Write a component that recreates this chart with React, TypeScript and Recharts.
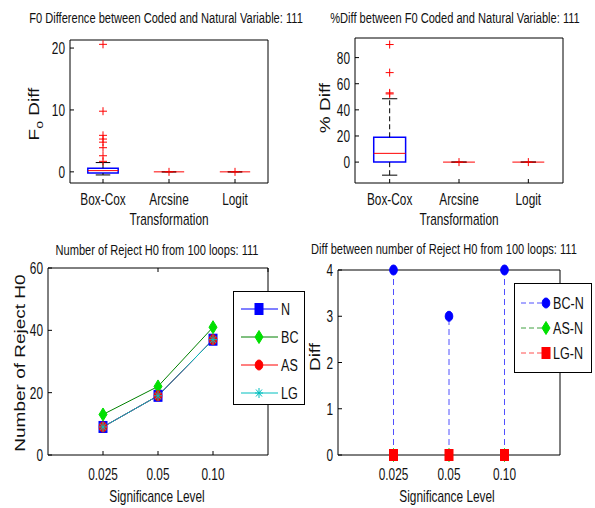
import React from 'react';
import {
  ComposedChart,
  Line,
  Scatter,
  XAxis,
  YAxis,
  ReferenceLine,
  ReferenceArea,
  Legend,
} from 'recharts';

const FONT = '"Liberation Sans", Arial, sans-serif';
const SQ = 0.74; // the original figure is squeezed sideways, so is its text

// top row: box plots for the three transformations
const methods = ['Box-Cox', 'Arcsine Transformation', 'Logit'];
const methodPos = [1, 2, 3];

const f0Low = [-0.5, 0, 0];
const f0Q1 = [-0.2, 0, 0];
const f0Median = [0.2, 0, 0];
const f0Q3 = [0.6, 0, 0];
const f0High = [1.5, 0, 0];
const f0Outliers = [[20.6, 9.8, 5.9, 5.3, 4.8, 3.9, 2.6, 1.7], [0], [0]];
const f0Ticks = [0, 10, 20];

const pctLow = [-10, 0, 0];
const pctQ1 = [0, 0, 0];
const pctMedian = [6.7, 0, 0];
const pctQ3 = [19, 0, 0];
const pctHigh = [48.5, 0, 0];
const pctOutliers = [[90, 68.5, 53, 52.2], [0], [0]];
const pctTicks = [0, 20, 40, 60, 80];

// bottom row: rejections per significance level
const levels = ['0.025', '0.05', '0.10'];
const levelPos = [1, 2, 3];
const rejN = [9, 19, 37];
const rejBC = [13, 22, 41];
const rejAS = [9, 19, 37];
const rejLG = [9, 19, 37];
const rejTicks = [0, 20, 40, 60];

const diffBC = [4, 3, 4];
const diffAS = [0, 0, 0];
const diffLG = [0, 0, 0];
const diffTicks = [0, 1, 2, 3, 4];

const rejRows = levelPos.map((x, i) => ({ x, N: rejN[i], BC: rejBC[i], AS: rejAS[i], LG: rejLG[i] }));

const rejSeries = [
  { key: 'N', line: '#0000ff', fill: '#0000ff', kind: 'square' },
  { key: 'BC', line: '#008000', fill: '#00e000', kind: 'diamond' },
  { key: 'AS', line: '#ff0000', fill: '#ff0000', kind: 'circle' },
  { key: 'LG', line: '#00bfbf', fill: '#00bfbf', kind: 'star' },
];

const diffSeries = [
  { key: 'BC-N', values: diffBC, line: '#5050ff', fill: '#0000ff', kind: 'circle' },
  { key: 'AS-N', values: diffAS, line: '#40a040', fill: '#00e000', kind: 'diamond' },
  { key: 'LG-N', values: diffLG, line: '#ff5050', fill: '#ff0000', kind: 'square' },
];

const points = (pos: number[], vals: number[][]) =>
  pos.flatMap((x, i) => vals[i].map((y) => ({ x, y })));

function Marker({ kind, cx, cy, color }: any) {
  if (kind === 'square') return <rect x={cx - 4} y={cy - 5.5} width={8} height={11} fill={color} stroke={color} />;
  if (kind === 'diamond')
    return <polygon points={`${cx},${cy - 6.5} ${cx + 4},${cy} ${cx},${cy + 6.5} ${cx - 4},${cy}`} fill={color} stroke={color} />;
  if (kind === 'circle') return <ellipse cx={cx} cy={cy} rx={3.8} ry={5} fill={color} stroke={color} />;
  if (kind === 'star')
    return (
      <g stroke={color}>
        <line x1={cx} y1={cy - 5} x2={cx} y2={cy + 5} />
        <line x1={cx - 4} y1={cy} x2={cx + 4} y2={cy} />
        <line x1={cx - 3} y1={cy - 3.5} x2={cx + 3} y2={cy + 3.5} />
        <line x1={cx - 3} y1={cy + 3.5} x2={cx + 3} y2={cy - 3.5} />
      </g>
    );
  return (
    <g stroke={color}>
      <line x1={cx - 4} y1={cy} x2={cx + 4} y2={cy} />
      <line x1={cx} y1={cy - 4} x2={cx} y2={cy + 4} />
    </g>
  );
}

// squeezed text, also used for rotated labels
function Txt({ x, y, size, anchor = 'middle', rotate, children }: any) {
  const t = rotate ? `translate(${x},${y}) rotate(-90) scale(1,${SQ})` : `translate(${x},${y}) scale(${SQ},1)`;
  return (
    <text transform={t} textAnchor={anchor} fontSize={size} fontFamily={FONT} fill="#111">
      {children}
    </text>
  );
}

const LeftTick = (p: any) => (
  <Txt x={p.x} y={p.y + 6} size={16} anchor="end">
    {p.payload.value}
  </Txt>
);

const bottomTick = (labels: string[]) => (p: any) => {
  const parts = labels[p.payload.value - 1].split(' ');
  return (
    <g>
      {parts.map((s, k) => (
        <Txt key={k} x={p.x} y={p.y + 12 + k * 20} size={16}>
          {s}
        </Txt>
      ))}
    </g>
  );
};

const noTick = () => <g />;

// box around the axes with small inward ticks on every side
function frame(xDomain: number[], xTicks: number[], yDomain: number[], yTicks: number[], tick: any, xHeight: number, yWidth: number, xMargin: number) {
  const ax = { stroke: '#000' };
  return [
    <XAxis key="xb" type="number" dataKey="x" domain={xDomain} ticks={xTicks} interval={0} height={xHeight} tickSize={-4} tickMargin={xMargin} axisLine={ax} tickLine={ax} tick={tick} />,
    <XAxis key="xt" xAxisId="top" orientation="top" type="number" domain={xDomain} ticks={xTicks} interval={0} height={1} tickSize={-4} axisLine={ax} tickLine={ax} tick={noTick} />,
    <YAxis key="yl" type="number" domain={yDomain} ticks={yTicks} interval={0} width={yWidth} tickSize={-4} tickMargin={9} axisLine={ax} tickLine={ax} tick={LeftTick} />,
    <YAxis key="yr" yAxisId="right" orientation="right" type="number" domain={yDomain} ticks={yTicks} interval={0} width={1} tickSize={-4} axisLine={ax} tickLine={ax} tick={noTick} />,
  ];
}

function boxes(low: number[], q1: number[], med: number[], q3: number[], high: number[]) {
  const w = 0.23;
  const c = 0.11;
  return methodPos.flatMap((p, i) => [
    <ReferenceLine key={`wl${i}`} segment={[{ x: p, y: low[i] }, { x: p, y: q1[i] }]} stroke="#000" strokeDasharray="5 3" />,
    <ReferenceLine key={`wh${i}`} segment={[{ x: p, y: q3[i] }, { x: p, y: high[i] }]} stroke="#000" strokeDasharray="5 3" />,
    <ReferenceLine key={`cl${i}`} segment={[{ x: p - c, y: low[i] }, { x: p + c, y: low[i] }]} stroke="#000" />,
    <ReferenceLine key={`ch${i}`} segment={[{ x: p - c, y: high[i] }, { x: p + c, y: high[i] }]} stroke="#000" />,
    <ReferenceArea key={`bx${i}`} x1={p - w} x2={p + w} y1={q1[i]} y2={q3[i]} fill="none" fillOpacity={0} stroke="#0000ff" strokeWidth={1.5} />,
    <ReferenceLine key={`md${i}`} segment={[{ x: p - w, y: med[i] }, { x: p + w, y: med[i] }]} stroke="#ff0000" />,
  ]);
}

const plus = (p: any) => <Marker kind="plus" cx={p.cx} cy={p.cy} color="#ff0000" />;

function LegendBox({ items, width, height, top, rowH, lineFrom, lineTo, markAt, textAt, dashed }: any) {
  return (
    <div style={{ width, height, border: '1px solid #000', background: '#fff', boxSizing: 'border-box' }}>
      <svg width={width - 2} height={height - 2} style={{ display: 'block' }}>
        {items.map((s: any, i: number) => {
          const cy = top + i * rowH;
          return (
            <g key={s.key}>
              <line x1={lineFrom} x2={lineTo} y1={cy} y2={cy} stroke={s.line} strokeDasharray={dashed ? '5 3' : undefined} />
              <Marker kind={s.kind} cx={markAt} cy={cy} color={s.fill} />
              <Txt x={textAt} y={cy + 6} size={17} anchor="start">
                {s.key}
              </Txt>
            </g>
          );
        })}
      </svg>
    </div>
  );
}

const App: React.FC = () => {
  return (
    <div style={{ position: 'absolute', left: 0, top: 0, width: 595, height: 508, background: '#fff' }}>
      {/* F0 difference */}
      <div style={{ position: 'absolute', left: 0, top: 0 }}>
        <ComposedChart width={297} height={235} margin={{ top: 39, right: 28, bottom: 0, left: 30 }}>
          {frame([0.5, 3.5], methodPos, [-1.8, 21.3], f0Ticks, bottomTick(methods), 52, 40, 14)}
          {boxes(f0Low, f0Q1, f0Median, f0Q3, f0High)}
          <Scatter data={points(methodPos, f0Outliers)} dataKey="y" shape={plus} isAnimationActive={false} />
        </ComposedChart>
      </div>

      {/* percent difference */}
      <div style={{ position: 'absolute', left: 297, top: 0 }}>
        <ComposedChart width={298} height={235} margin={{ top: 37, right: 31, bottom: 0, left: 18 }}>
          {frame([0.5, 3.5], methodPos, [-16, 95], pctTicks, bottomTick(methods), 52, 40, 14)}
          {boxes(pctLow, pctQ1, pctMedian, pctQ3, pctHigh)}
          <Scatter data={points(methodPos, pctOutliers)} dataKey="y" shape={plus} isAnimationActive={false} />
        </ComposedChart>
      </div>

      {/* number of rejections */}
      <div style={{ position: 'absolute', left: 0, top: 235 }}>
        <ComposedChart width={310} height={273} data={rejRows} margin={{ top: 32, right: 41, bottom: 0, left: 18 }}>
          {frame([0, 4], levelPos, [0, 60], rejTicks, bottomTick(levels), 53, 30, 17)}
          {rejSeries.map((s) => (
            <Line
              key={s.key}
              dataKey={s.key}
              stroke={s.line}
              strokeWidth={1}
              isAnimationActive={false}
              dot={(p: any) => <Marker key={p.index} kind={s.kind} cx={p.cx} cy={p.cy} color={s.fill} />}
            />
          ))}
          <Legend
            layout="vertical"
            align="center"
            verticalAlign="middle"
            wrapperStyle={{ left: 233, top: 56 }}
            content={() => (
              <LegendBox items={rejSeries} width={72} height={114} top={17} rowH={28} lineFrom={7} lineTo={44} markAt={25} textAt={47} />
            )}
          />
        </ComposedChart>
      </div>

      {/* differences against N: stems from zero */}
      <div style={{ position: 'absolute', left: 297, top: 235 }}>
        <ComposedChart width={298} height={273} margin={{ top: 34, right: 34, bottom: 0, left: 16 }}>
          {frame([0, 4], levelPos, [0, 4], diffTicks, bottomTick(levels), 53, 25, 17)}
          {diffSeries.flatMap((s) =>
            levelPos
              .filter((x, i) => s.values[i] !== 0)
              .map((x) => (
                <ReferenceLine
                  key={`${s.key}${x}`}
                  segment={[{ x, y: 0 }, { x, y: s.values[levelPos.indexOf(x)] }]}
                  stroke={s.line}
                  strokeDasharray="6 4"
                />
              ))
          )}
          {diffSeries.map((s) => (
            <Scatter
              key={s.key}
              name={s.key}
              data={levelPos.map((x, i) => ({ x, y: s.values[i] }))}
              dataKey="y"
              isAnimationActive={false}
              shape={(p: any) => <Marker kind={s.kind} cx={p.cx} cy={p.cy} color={s.fill} />}
            />
          ))}
          <Legend
            layout="vertical"
            align="center"
            verticalAlign="middle"
            wrapperStyle={{ left: 217, top: 48 }}
            content={() => (
              <LegendBox items={diffSeries} width={78} height={90} top={19} rowH={25} lineFrom={6} lineTo={31} markAt={31} textAt={38} dashed />
            )}
          />
        </ComposedChart>
      </div>

      {/* titles and axis labels */}
      <svg width={595} height={508} style={{ position: 'absolute', left: 0, top: 0, pointerEvents: 'none' }}>
        <Txt x={166} y={23} size={15}>F0 Difference between Coded and Natural Variable: 111</Txt>
        <Txt x={455} y={23} size={15}>%Diff between F0 Coded and Natural Variable: 111</Txt>
        <Txt x={157} y={255} size={15}>Number of Reject H0 from 100 loops: 111</Txt>
        <Txt x={444} y={254} size={15}>Diff between number of Reject H0 from 100 loops: 111</Txt>

        <Txt x={39} y={114} size={19} rotate>
          F<tspan fontSize={14} dy={6}>o</tspan>
          <tspan dy={-6}> Diff</tspan>
        </Txt>
        <Txt x={330} y={108} size={19} rotate>% Diff</Txt>
        <Txt x={25} y={363} size={19} rotate>Number of Reject H0</Txt>
        <Txt x={320} y={357} size={19} rotate>Diff</Txt>

        <Txt x={157} y={502} size={16}>Significance Level</Txt>
        <Txt x={447} y={502} size={16}>Significance Level</Txt>
      </svg>
    </div>
  );
};

export default App;
